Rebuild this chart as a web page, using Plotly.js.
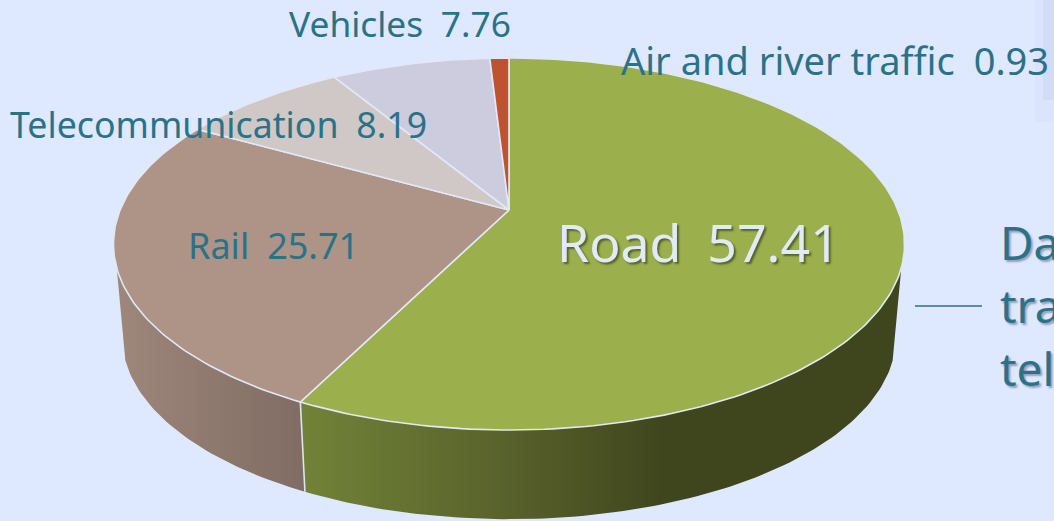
<!DOCTYPE html>
<html><head><meta charset="utf-8">
<script src="https://cdn.plot.ly/plotly-3.0.1.min.js"></script>
<style>html,body{margin:0;padding:0;background:#DEE8FF;overflow:hidden}</style>
</head><body><div id="chart" style="width:1054px;height:521px"></div>
<script>
const categories = ['Road','Rail','Telecommunication','Vehicles','Air and river traffic'];
const values = [57.41,25.71,8.19,7.76,0.93];
const topColors = ['#9BAF4D','#AE9487','#D0C8C6','#CDCCDF','#C0532F'];
const labelX = [556,187,9,288,620];
const labelY = [242,245,124,23,60];
const labelSize = [51.8,36,35.7,35.3,38];
const labelColor = ['#E3EAF7','#2A7287','#2A7287','#2A7287','#2A7287'];
const sideLines = ['Da','tra','tel'];
const sideY = [242,305,368];
const FONT = 'Noto Sans';

const cx=509, cy=210, f=388.9, g=179.8, k=0.1827, botS=0.978, botY=304;
const edgeR=107.7, edgeL=252.3;
const pt=(a,s,y0)=>{const r=a*Math.PI/180,X=Math.sin(r),Y=Math.cos(r),d=1+k*Y;
  return [cx+s*f*X/d, y0-s*g*Y/d];};
const arc=(a0,a1,s,y0)=>{const n=Math.max(2,Math.ceil(Math.abs(a1-a0)));const o=[];
  for(let i=0;i<=n;i++)o.push(pt(a0+(a1-a0)*i/n,s,y0));return o;};

const total=values.reduce((p,c)=>p+c,0);
let acc=0; const bounds=values.map(v=>{const s=acc;acc+=v;return [s/total*360,acc/total*360];});

function wall(a0,a1,start,stop,scale,name){
  const p=arc(a0,a1,1,cy).concat(arc(a1,a0,botS,botY));p.push(p[0]);
  return {type:'scatter',mode:'lines',x:p.map(q=>q[0]),y:p.map(q=>q[1]),fill:'toself',
    line:{width:0},fillgradient:{type:'horizontal',start:start,stop:stop,colorscale:scale},
    hoverinfo:'skip',showlegend:false,name:name};
}
const traces=[
  wall(edgeR,bounds[0][1],300,903,[[0,'#728338'],[0.367,'#565F2A'],[0.6,'#3F461D'],[1,'#3F461D']],'Road side'),
  wall(bounds[0][1],edgeL,115,305,[[0,'#9E877B'],[1,'#806C63']],'Rail side')
];
const seam=[pt(bounds[0][1],1,cy),pt(bounds[0][1],botS,botY)];
traces.push({type:'scatter',mode:'lines',x:seam.map(q=>q[0]),y:seam.map(q=>q[1]),
  line:{color:'#DDE4F2',width:1.6},hoverinfo:'skip',showlegend:false});
bounds.forEach((b,i)=>{
  const p=[[cx,cy]].concat(arc(b[0],b[1],1,cy));p.push([cx,cy]);
  traces.push({type:'scatter',mode:'lines',x:p.map(q=>q[0]),y:p.map(q=>q[1]),fill:'toself',
    fillcolor:topColors[i],line:{color:'#E2E8F6',width:1.6},name:categories[i],hoverinfo:'skip',showlegend:false});
});

const anns=categories.map((c,i)=>({x:labelX[i],y:labelY[i],xref:'x',yref:'y',xanchor:'left',yanchor:'middle',
  text:c+'\u2002'+values[i].toFixed(2),showarrow:false,borderpad:0,
  font:{family:FONT,size:labelSize[i],color:labelColor[i],
        shadow:i===0?'2px 2px 2px rgba(40,50,20,0.6)':'none'}}));
sideLines.forEach((t,i)=>anns.push({x:999,y:sideY[i],xref:'x',yref:'y',xanchor:'left',yanchor:'middle',
  text:t,showarrow:false,borderpad:0,
  font:{family:FONT,size:46,color:'#2A7287',shadow:'2px 2px 2px rgba(60,70,90,0.45)'}}));

const layout={width:1054,height:521,margin:{l:0,r:0,t:0,b:0},paper_bgcolor:'#DEE8FF',plot_bgcolor:'#DEE8FF',
  xaxis:{range:[0,1054],visible:false,fixedrange:true},
  yaxis:{range:[521,0],visible:false,fixedrange:true},
  showlegend:false,annotations:anns,
  shapes:[
   {type:'line',xref:'x',yref:'y',x0:915,x1:982,y0:306,y1:306,line:{color:'#2A7287',width:1.5}},
   {type:'rect',xref:'x',yref:'y',x0:1043,x1:1054,y0:0,y1:100,fillcolor:'#6070A0',opacity:0.07,line:{width:0},layer:'below'},
   {type:'rect',xref:'x',yref:'y',x0:1035,x1:1054,y0:0,y1:122,fillcolor:'#6070A0',opacity:0.025,line:{width:0},layer:'below'}
  ]};
Plotly.newPlot('chart',traces,layout,{displayModeBar:false,staticPlot:true});
</script></body></html>
